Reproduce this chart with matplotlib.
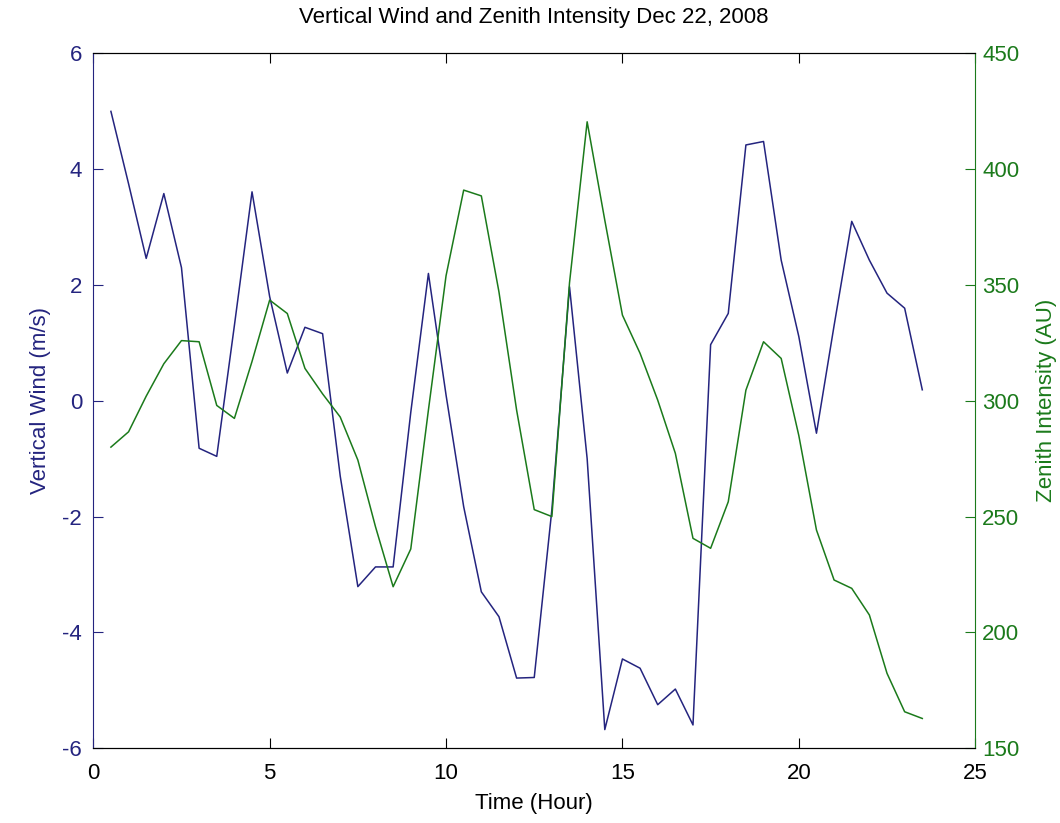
import matplotlib
matplotlib.use("Agg")
import matplotlib.pyplot as plt

plt.rcParams["font.family"] = ["Liberation Sans", "DejaVu Sans"]
plt.rcParams["axes.unicode_minus"] = False

# time of day (hours), half-hour samples
hours = [0.5, 1.0, 1.5, 2.0, 2.5, 3.0, 3.5, 4.0, 4.5, 5.0, 5.5, 6.0,
         6.5, 7.0, 7.5, 8.0, 8.5, 9.0, 9.5, 10.0, 10.5, 11.0, 11.5, 12.0,
         12.5, 13.0, 13.5, 14.0, 14.5, 15.0, 15.5, 16.0, 16.5, 17.0, 17.5, 18.0,
         18.5, 19.0, 19.5, 20.0, 20.5, 21.0, 21.5, 22.0, 22.5, 23.0, 23.5]

# vertical wind (m/s)
wind = [5.0, 3.75, 2.46, 3.58, 2.3, -0.82, -0.96, 1.3, 3.61, 1.8, 0.48, 1.27,
        1.16, -1.3, -3.21, -2.87, -2.87, -0.2, 2.2, 0.1, -1.83, -3.3, -3.73, -4.79,
        -4.78, -1.88, 1.97, -1.0, -5.68, -4.46, -4.62, -5.25, -4.98, -5.6, 0.97, 1.51,
        4.42, 4.48, 2.43, 1.11, -0.56, 1.3, 3.1, 2.43, 1.86, 1.6, 0.19]

# zenith intensity (AU)
intensity = [280, 286.6, 302, 316, 326, 325.5, 298, 292.4, 317, 343.5, 337.7, 314,
             303, 293, 274.4, 245.6, 219.7, 236, 296, 354, 391, 388.5, 347, 296,
             253, 250, 351, 420.5, 378, 337, 320.5, 300.3, 277.3, 240.6, 236.3, 256.4,
             304.6, 325.5, 318.3, 285, 244.2, 222.6, 219, 207.5, 182.3, 165.7, 162.8]

blue = "#24247f"
green = "#1b7a1b"
fs = 16

fig = plt.figure(figsize=(10.6, 8.23), dpi=100)
ax1 = fig.add_axes([0.088, 0.091, 0.832, 0.844])
ax1.plot(hours, wind, color=blue, lw=1.1)
ax1.set_xlim(0, 25)
ax1.set_ylim(-6, 6)
ax1.set_xticks([0, 5, 10, 15, 20, 25])
ax1.set_yticks([-6, -4, -2, 0, 2, 4, 6])
ax1.set_xlabel("Time (Hour)", fontsize=fs, labelpad=6)
ax1.set_ylabel("Vertical Wind (m/s)", color=blue, fontsize=fs, labelpad=8)
ax1.tick_params(axis="x", direction="in", length=7, top=True, labelsize=fs, pad=11)
ax1.tick_params(axis="y", direction="in", length=7, colors=blue, labelsize=fs, pad=8)
ax1.spines["left"].set_color(blue)
ax1.spines["right"].set_visible(False)

ax2 = ax1.twinx()
ax2.plot(hours, intensity, color=green, lw=1.1)
ax2.set_ylim(150, 450)
ax2.set_yticks([150, 200, 250, 300, 350, 400, 450])
ax2.set_ylabel("Zenith Intensity (AU)", color=green, fontsize=fs, labelpad=12)
ax2.tick_params(axis="y", direction="in", length=7, colors=green, labelsize=fs, pad=5)
ax2.spines["right"].set_color(green)
ax2.spines["left"].set_visible(False)

ax1.set_title("Vertical Wind and Zenith Intensity Dec 22, 2008", fontsize=fs, pad=22)

fig.savefig("out.png", dpi=100)
